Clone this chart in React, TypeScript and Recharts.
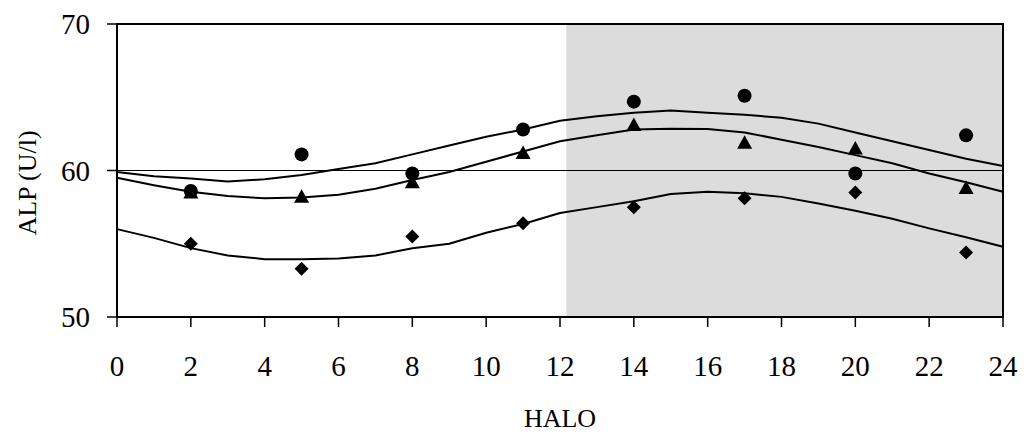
import {
  ComposedChart,
  Line,
  Scatter,
  XAxis,
  YAxis,
  ReferenceArea,
  ReferenceLine,
} from "recharts"

// measured sampling times (h)
const hours = [2, 5, 8, 11, 14, 17, 20, 23]
const circleVals = [58.6, 61.1, 59.8, 62.8, 64.7, 65.1, 59.8, 62.4]
const triangleVals = [58.5, 58.2, 59.2, 61.2, 63.1, 61.9, 61.5, 58.8]
const diamondVals = [55.0, 53.3, 55.5, 56.4, 57.5, 58.1, 58.5, 54.4]

// fitted curves
const curveHours = [0, 1, 2, 3, 4, 5, 6, 7, 8, 9, 10, 11, 12, 13, 14, 15, 16, 17, 18, 19, 20, 21, 22, 23, 24]
const upperCurve = [59.9, 59.6, 59.45, 59.25, 59.4, 59.7, 60.1, 60.5, 61.1, 61.7, 62.3, 62.8, 63.4, 63.7, 63.95, 64.1, 63.95, 63.8, 63.6, 63.2, 62.6, 62.0, 61.4, 60.8, 60.3]
const middleCurve = [59.5, 59.0, 58.55, 58.26, 58.1, 58.15, 58.35, 58.75, 59.35, 59.9, 60.6, 61.3, 62.0, 62.4, 62.8, 62.85, 62.83, 62.6, 62.1, 61.6, 61.05, 60.5, 59.8, 59.2, 58.55]
const lowerCurve = [56.0, 55.4, 54.7, 54.2, 53.95, 53.95, 54.0, 54.2, 54.7, 55.0, 55.75, 56.35, 57.1, 57.5, 57.9, 58.4, 58.55, 58.45, 58.2, 57.75, 57.25, 56.7, 56.05, 55.45, 54.8]

const xTicks = [0, 2, 4, 6, 8, 10, 12, 14, 16, 18, 20, 22, 24]
const yTicks = [50, 60, 70]
const darkPhaseStart = 12.17

const toPoints = (xs: number[], ys: number[]) => xs.map((x, i) => ({ x, y: ys[i] }))

const FONT = "'Liberation Serif', 'Times New Roman', serif"

const CircleDot = ({ cx, cy }: any) => <circle cx={cx} cy={cy} r={7} fill="#000" />
const TriangleDot = ({ cx, cy }: any) => (
  <path d={`M${cx},${cy - 7.5} L${cx + 7.5},${cy + 6} L${cx - 7.5},${cy + 6} Z`} fill="#000" />
)
const DiamondDot = ({ cx, cy }: any) => (
  <path d={`M${cx},${cy - 7} L${cx + 7},${cy} L${cx},${cy + 7} L${cx - 7},${cy} Z`} fill="#000" />
)

export default function App() {
  return (
    <div style={{ position: "absolute", left: 0, top: 0, background: "#fff" }}>
      <ComposedChart
        width={1029}
        height={434}
        margin={{ top: 24, right: 26, left: 0, bottom: 0 }}
      >
        <XAxis
          type="number"
          dataKey="x"
          domain={[0, 24]}
          ticks={xTicks}
          interval={0}
          height={117}
          tick={{ fill: "#000", fontSize: 29, fontFamily: FONT }}
          tickSize={10}
          tickMargin={28}
          axisLine={{ stroke: "#000", strokeWidth: 2 }}
          tickLine={{ stroke: "#000", strokeWidth: 1.5 }}
          allowDuplicatedCategory={false}
          label={{ value: "HALO", position: "insideBottom", offset: 7, fill: "#000", fontSize: 26, fontFamily: FONT }}
        />
        <YAxis
          type="number"
          domain={[50, 70]}
          ticks={yTicks}
          interval={0}
          width={117}
          tick={{ fill: "#000", fontSize: 29, fontFamily: FONT }}
          tickSize={10}
          tickMargin={17}
          axisLine={{ stroke: "#000", strokeWidth: 2 }}
          tickLine={{ stroke: "#000", strokeWidth: 1.5 }}
          label={{
            content: () => (
              <text
                x={27}
                y={183}
                transform="rotate(-90 27 183)"
                textAnchor="middle"
                dominantBaseline="central"
                fill="#000"
                fontSize={26}
                fontFamily={FONT}
              >
                ALP (U/l)
              </text>
            ),
          }}
        />
        <ReferenceArea x1={darkPhaseStart} x2={24} y1={50} y2={70} fill="#dcdcdc" fillOpacity={1} stroke="none" />
        <ReferenceLine y={60} stroke="#000" strokeWidth={1} />
        <ReferenceArea x1={0} x2={24} y1={50} y2={70} fill="none" stroke="#000" strokeWidth={2} />
        <Line data={toPoints(curveHours, upperCurve)} dataKey="y" type="linear" stroke="#000" strokeWidth={2} dot={false} isAnimationActive={false} />
        <Line data={toPoints(curveHours, middleCurve)} dataKey="y" type="linear" stroke="#000" strokeWidth={2} dot={false} isAnimationActive={false} />
        <Line data={toPoints(curveHours, lowerCurve)} dataKey="y" type="linear" stroke="#000" strokeWidth={2} dot={false} isAnimationActive={false} />
        <Scatter data={toPoints(hours, circleVals)} dataKey="y" shape={<CircleDot />} isAnimationActive={false} />
        <Scatter data={toPoints(hours, triangleVals)} dataKey="y" shape={<TriangleDot />} isAnimationActive={false} />
        <Scatter data={toPoints(hours, diamondVals)} dataKey="y" shape={<DiamondDot />} isAnimationActive={false} />
      </ComposedChart>
    </div>
  )
}
